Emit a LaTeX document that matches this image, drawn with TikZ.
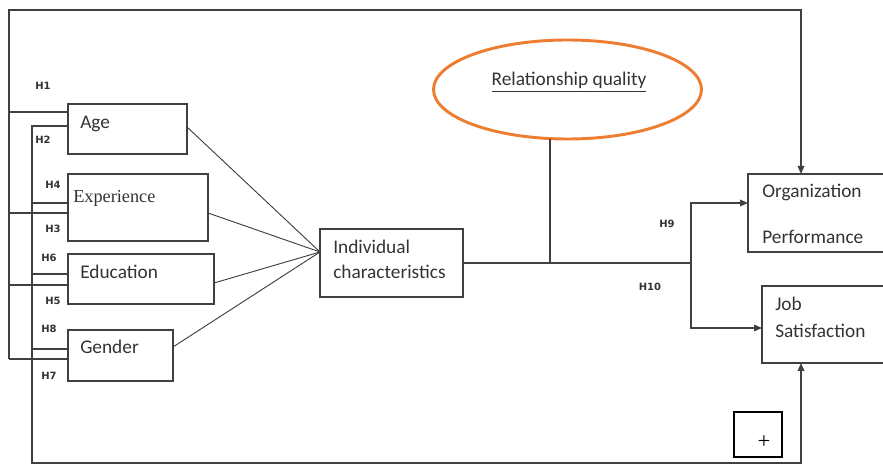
\documentclass[tikz,border=0pt]{standalone}
\usepackage{fontspec}
\setmainfont{Carlito}
\newfontfamily\serifx{Liberation Serif}
\newfontfamily\hfont{DejaVu Sans}
\usetikzlibrary{arrows.meta,fit,shapes.geometric}
\definecolor{lin}{HTML}{404040}
\definecolor{orng}{HTML}{ED7D31}
\begin{document}
\begin{tikzpicture}[x=0.75pt,y=-0.75pt,
  box/.style={draw=lin,line width=1pt,inner sep=0pt,rectangle},
  conn/.style={draw=lin,line width=0.9pt},
  arr/.style={conn,-{Triangle[length=6pt,width=5pt]}},
  txt/.style={font=\fontsize{14.5}{16}\selectfont,text=black!80,inner sep=0pt,anchor=west},
  hl/.style={font=\hfont\bfseries\fontsize{7.5}{8}\selectfont,text=black!80,inner sep=0pt}]
\useasboundingbox (0,0) rectangle (883,466);
\clip (0,0) rectangle (883,466);
% boxes
\node[box,fit={(68,104) (187,154)}] (age) {};
\node[box,fit={(68,174) (208,241)}] (exp) {};
\node[box,fit={(68,254) (214,304)}] (edu) {};
\node[box,fit={(68,330) (173,381)}] (gen) {};
\node[box,fit={(320,229) (463,297)}] (ind) {};
\node[box,fit={(748,174) (890,252)}] (org) {};
\node[box,fit={(762,286) (890,363)}] (job) {};
\node[box,line width=1.2pt,draw=black,fit={(734,412) (782,457)}] (small) {};
\node[ellipse,draw=orng,line width=2.2pt,minimum width=268*0.75pt,minimum height=99*0.75pt,inner sep=0pt] (rq) at (567.5,89.5) {};
% texts
\node[txt] (agetxt) at (80,124) {Age};
\node[txt,font=\serifx\fontsize{13.7}{15}\selectfont] (exptxt) at (73,198) {Experience};
\node[txt] (edutxt) at (80,272) {Education};
\node[txt] (gentxt) at (80,347) {Gender};
\node[txt] (ind1) at (333,247) {Individual};
\node[txt] (ind2) at (333,272) {characteristics};
\node[txt] (org1) at (762,192) {Organization};
\node[txt] (org2) at (762,237) {Performance};
\node[txt] (job1) at (775,304) {Job};
\node[txt] (job2) at (775,331) {Satisfaction};
\node[txt,anchor=center] (rqtxt) at (569,82) {\underline{Relationship quality}};
\node[font=\serifx\fontsize{17}{17}\selectfont,inner sep=0pt] (plus) at (764,442) {+};
% H labels
\node[hl] (h1) at (43,86) {H1};
\node[hl] (h2) at (43,140) {H2};
\node[hl] (h4) at (53,185) {H4};
\node[hl] (h3) at (53,229) {H3};
\node[hl] (h6) at (49,258) {H6};
\node[hl] (h5) at (53,301) {H5};
\node[hl] (h8) at (49,329) {H8};
\node[hl] (h7) at (49,376) {H7};
\node[hl] (h9) at (667,224) {H9};
\node[hl] (h10) at (650,287) {H10};
% coordinates
\coordinate (tl) at (9,10);
\coordinate (tr) at (801,10);
\coordinate (orgtop) at (801,174);
\coordinate (bl) at (32,463);
\coordinate (br) at (801,463);
\coordinate (jobbot) at (801,363);
\coordinate (conv) at (320,252);
\coordinate (junc) at (550,263);
\coordinate (rqbot) at (550,139);
\coordinate (split) at (691,263);
% outer loop
\draw[arr] (9,359) -- (tl) -- (tr) -- (orgtop);
\draw[conn] (9,112) -- (68,112);
\draw[conn] (9,213) -- (68,213);
\draw[conn] (9,285) -- (68,285);
\draw[conn] (9,359) -- (68,359);
% inner loop
\draw[arr] (68,126) -- (32,126) -- (bl) -- (br) -- (jobbot);
\draw[conn] (32,203) -- (68,203);
\draw[conn] (32,274) -- (68,274);
\draw[conn] (32,349) -- (68,349);
% converging lines
\draw[conn,line width=0.7pt] (187,127) -- (conv);
\draw[conn,line width=0.7pt] (208,213) -- (conv);
\draw[conn,line width=0.7pt] (214,283) -- (conv);
\draw[conn,line width=0.7pt] (173,347) -- (conv);
% outputs
\draw[conn] (463,263) -- (split);
\draw[conn] (rqbot) -- (junc);
\draw[arr] (691,263) -- (691,203) -- (748,203);
\draw[arr] (691,263) -- (691,328) -- (762,328);
\end{tikzpicture}
\end{document}
